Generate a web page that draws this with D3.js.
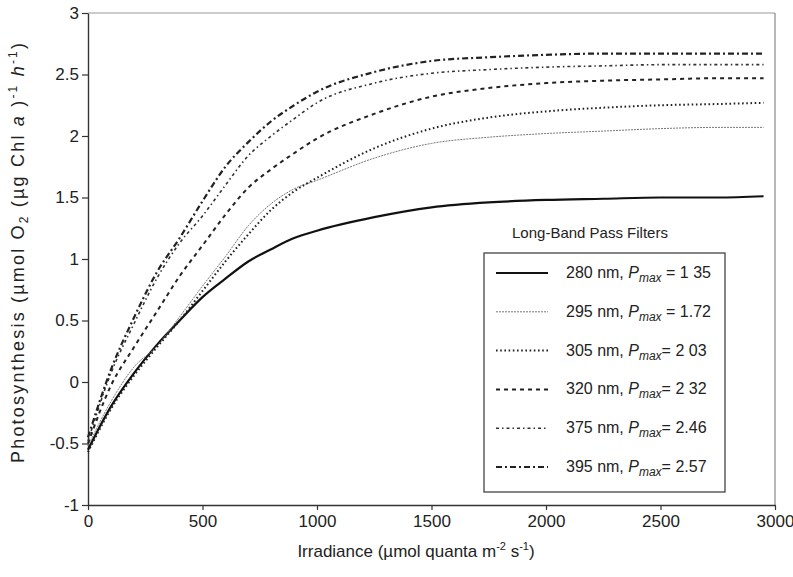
<!DOCTYPE html>
<html>
<head>
<meta charset="utf-8">
<script src="https://cdn.jsdelivr.net/npm/d3@7"></script>
<style>
  body { margin: 0; background: #fff; }
  text { font-family: "Liberation Sans", Arial, sans-serif; fill: #222; }
</style>
</head>
<body>
<svg id="chart" width="793" height="577"></svg>
<script>
// irradiance (umol quanta m-2 s-1)
const irradiance = [0, 100, 200, 300, 400, 500, 600, 700, 800, 900, 1000, 1250, 1500, 1750, 2000, 2250, 2500, 2750, 2950];

// photosynthesis per filter
const p280 = [-0.55, -0.20, 0.07, 0.30, 0.50, 0.69, 0.84, 0.98, 1.08, 1.17, 1.23, 1.34, 1.42, 1.46, 1.48, 1.49, 1.50, 1.50, 1.51];
const p295 = [-0.52, -0.16, 0.12, 0.29, 0.53, 0.78, 1.02, 1.27, 1.45, 1.57, 1.64, 1.82, 1.94, 1.99, 2.02, 2.04, 2.06, 2.07, 2.07];
const p305 = [-0.57, -0.22, 0.05, 0.28, 0.50, 0.74, 0.98, 1.20, 1.40, 1.55, 1.66, 1.90, 2.06, 2.15, 2.20, 2.23, 2.25, 2.26, 2.27];
const p320 = [-0.50, -0.03, 0.28, 0.57, 0.86, 1.11, 1.36, 1.58, 1.73, 1.86, 1.98, 2.18, 2.32, 2.39, 2.43, 2.45, 2.46, 2.47, 2.47];
const p375 = [-0.48, 0.07, 0.47, 0.84, 1.13, 1.35, 1.60, 1.84, 2.00, 2.14, 2.27, 2.43, 2.51, 2.54, 2.56, 2.57, 2.58, 2.58, 2.58];
const p395 = [-0.45, 0.10, 0.52, 0.89, 1.17, 1.47, 1.75, 1.95, 2.12, 2.25, 2.36, 2.52, 2.61, 2.64, 2.66, 2.67, 2.67, 2.67, 2.67];

const filterNames = ["280 nm, ", "295 nm, ", "305 nm, ", "320 nm, ", "375 nm, ", "395 nm, "];
const pmaxLabels = [" = 1 35", " = 1.72", "= 2 03", "= 2 32", "= 2.46", "= 2.57"];

const xTicks = [0, 500, 1000, 1500, 2000, 2500, 3000];
const yTicks = [-1, -0.5, 0, 0.5, 1, 1.5, 2, 2.5, 3];

// line styles per filter
const styles = [
  { dash: null, width: 2.2, color: "#111" },
  { dash: "2,1", width: 1, color: "#777" },
  { dash: "1.6,2.6", width: 2, color: "#222" },
  { dash: "4,4", width: 2, color: "#222" },
  { dash: "3,3,1.5,3", width: 1.6, color: "#333" },
  { dash: "6,3,2,3", width: 2.2, color: "#222" }
];

const svg = d3.select("#chart");
const margin = { top: 13, right: 18, bottom: 72, left: 88 },
  width = 793 - margin.left - margin.right,
  height = 577 - margin.top - margin.bottom;

const x = d3.scaleLinear().domain([0, 3000]).range([margin.left, margin.left + width]);
const y = d3.scaleLinear().domain([-1, 3]).range([margin.top + height, margin.top]);

// frame top / right
svg.append("line")
  .attr("x1", x(0)).attr("x2", x(3000))
  .attr("y1", y(3)).attr("y2", y(3))
  .attr("stroke", "#999").attr("stroke-width", 1.2);
svg.append("line")
  .attr("x1", x(3000)).attr("x2", x(3000))
  .attr("y1", y(3)).attr("y2", y(-1))
  .attr("stroke", "#888").attr("stroke-width", 1.2);

// axes
const gx = svg.append("g")
  .attr("transform", `translate(0,${y(-1)})`)
  .call(d3.axisBottom(x).tickValues(xTicks).tickSize(5).tickSizeOuter(0).tickPadding(5).tickFormat((d) => String(d)));
const gy = svg.append("g")
  .attr("transform", `translate(${x(0)},0)`)
  .call(d3.axisLeft(y).tickValues(yTicks).tickSize(6).tickSizeOuter(0).tickPadding(3).tickFormat((d) => String(d)));

[gx, gy].forEach((g) => {
  g.select(".domain").attr("stroke", "#333").attr("stroke-width", 1.4);
  g.selectAll(".tick line").attr("stroke", "#333").attr("stroke-width", 1.2);
  g.selectAll(".tick text").style("font-size", "17px").attr("fill", "#222");
});

// curves
const series = [p280, p295, p305, p320, p375, p395];
const line = d3.line()
  .x((d, i) => x(irradiance[i]))
  .y((d) => y(d))
  .curve(d3.curveMonotoneX);

svg.append("g").selectAll("path")
  .data(series)
  .join("path")
  .attr("d", (d) => line(d))
  .attr("fill", "none")
  .attr("stroke", (d, i) => styles[i].color)
  .attr("stroke-width", (d, i) => styles[i].width)
  .attr("stroke-dasharray", (d, i) => styles[i].dash);

// legend
svg.append("text")
  .attr("x", 590).attr("y", 238)
  .attr("text-anchor", "middle")
  .style("font-size", "15px")
  .text("Long-Band Pass Filters");

svg.append("rect")
  .attr("x", 484).attr("y", 253)
  .attr("width", 241).attr("height", 239)
  .attr("fill", "#fff")
  .attr("stroke", "#444").attr("stroke-width", 1.3);

const rowY = (i) => 273 + i * 38.8;
const leg = svg.append("g").selectAll("g")
  .data(filterNames)
  .join("g")
  .attr("transform", (d, i) => `translate(0,${rowY(i)})`);

leg.append("line")
  .attr("x1", 496).attr("x2", 548)
  .attr("y1", 0).attr("y2", 0)
  .attr("stroke", (d, i) => styles[i].color)
  .attr("stroke-width", (d, i) => styles[i].width)
  .attr("stroke-dasharray", (d, i) => styles[i].dash);

const lt = leg.append("text")
  .attr("x", 566).attr("y", 5)
  .style("font-size", "16px");
lt.append("tspan").text((d) => d);
lt.append("tspan").style("font-style", "italic").text("P");
lt.append("tspan").attr("dy", 4).style("font-size", "12px").style("font-style", "italic").text("max");
lt.append("tspan").attr("dy", -4).text((d, i) => pmaxLabels[i]);

// axis titles
const xt = svg.append("text")
  .attr("x", 416).attr("y", 557)
  .attr("text-anchor", "middle")
  .style("font-size", "17px");
xt.append("tspan").text("Irradiance (µmol quanta m");
xt.append("tspan").attr("dy", -7).style("font-size", "11px").text("-2");
xt.append("tspan").attr("dy", 7).text(" s");
xt.append("tspan").attr("dy", -7).style("font-size", "11px").text("-1");
xt.append("tspan").attr("dy", 7).text(")");

const yt = svg.append("text")
  .attr("transform", "translate(24,253) rotate(-90)")
  .attr("text-anchor", "middle")
  .attr("textLength", 420)
  .attr("lengthAdjust", "spacing")
  .style("font-size", "18px");
yt.append("tspan").text("Photosynthesis (µmol O");
yt.append("tspan").attr("dy", 4).style("font-size", "12px").text("2");
yt.append("tspan").attr("dy", -4).text(" (µg Chl ");
yt.append("tspan").style("font-style", "italic").text("a");
yt.append("tspan").text(" )");
yt.append("tspan").attr("dy", -7).style("font-size", "12px").text("-1");
yt.append("tspan").attr("dy", 7).text(" ");
yt.append("tspan").style("font-style", "italic").text("h");
yt.append("tspan").attr("dy", -7).style("font-size", "12px").text("-1");
yt.append("tspan").attr("dy", 7).text(")");
</script>
</body>
</html>
